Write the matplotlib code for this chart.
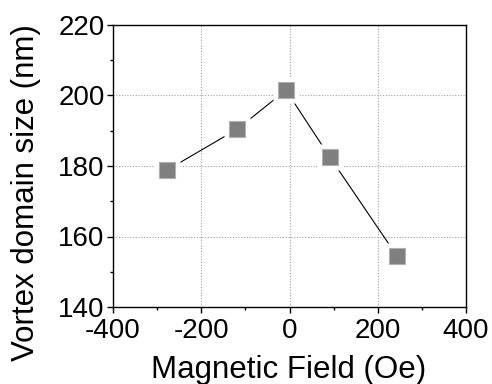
import matplotlib
matplotlib.use("Agg")
import matplotlib.pyplot as plt
from matplotlib.ticker import MultipleLocator

field_oe = [-278, -118, -8, 91, 244]
domain_size_nm = [178.8, 190.5, 201.5, 182.6, 154.4]

plt.rcParams['font.family'] = ['Liberation Sans', 'DejaVu Sans']
plt.rcParams['axes.unicode_minus'] = False

W, H = 492, 384
fig = plt.figure(figsize=(W / 100, H / 100), dpi=100)
ax = fig.add_axes([113 / W, 1 - 307 / H, (466 - 113) / W, (307 - 25) / H])

ax.set_xlim(-400, 400)
ax.set_ylim(140, 220)
ax.xaxis.set_major_locator(MultipleLocator(200))
ax.xaxis.set_minor_locator(MultipleLocator(100))
ax.yaxis.set_major_locator(MultipleLocator(20))
ax.yaxis.set_minor_locator(MultipleLocator(10))

ax.grid(True, which='major', color='#a0a0a0', linestyle=(0, (1, 1.5)), linewidth=0.8)
ax.set_axisbelow(True)

ax.plot(field_oe, domain_size_nm, color='black', linewidth=0.8, zorder=3)
# white halo so the connecting line stops short of each marker
ax.plot(field_oe, domain_size_nm, linestyle='none', marker='s', markersize=19,
        markerfacecolor='white', markeredgecolor='none', zorder=4)
ax.plot(field_oe, domain_size_nm, linestyle='none', marker='s', markersize=12,
        markerfacecolor='#7f7f7f', markeredgecolor='#b0b0b0', markeredgewidth=0.8, zorder=5)

for side in ax.spines.values():
    side.set_linewidth(1.0)

ax.tick_params(which='major', direction='out', length=4.5, width=1.0, labelsize=20)
ax.tick_params(axis='y', which='major', pad=1.5)
ax.tick_params(axis='x', which='major', pad=3.5)
ax.tick_params(which='minor', direction='out', length=2.5, width=1.0)

fig.text(289 / W, 1 - 378 / H, 'Magnetic Field (Oe)', fontsize=22.5,
         ha='center', va='baseline')
fig.text(26 / W, 1 - 193 / H, 'Vortex domain size (nm)', fontsize=22.5,
         rotation=90, ha='center', va='center')

fig.savefig('out.png', dpi=100)
